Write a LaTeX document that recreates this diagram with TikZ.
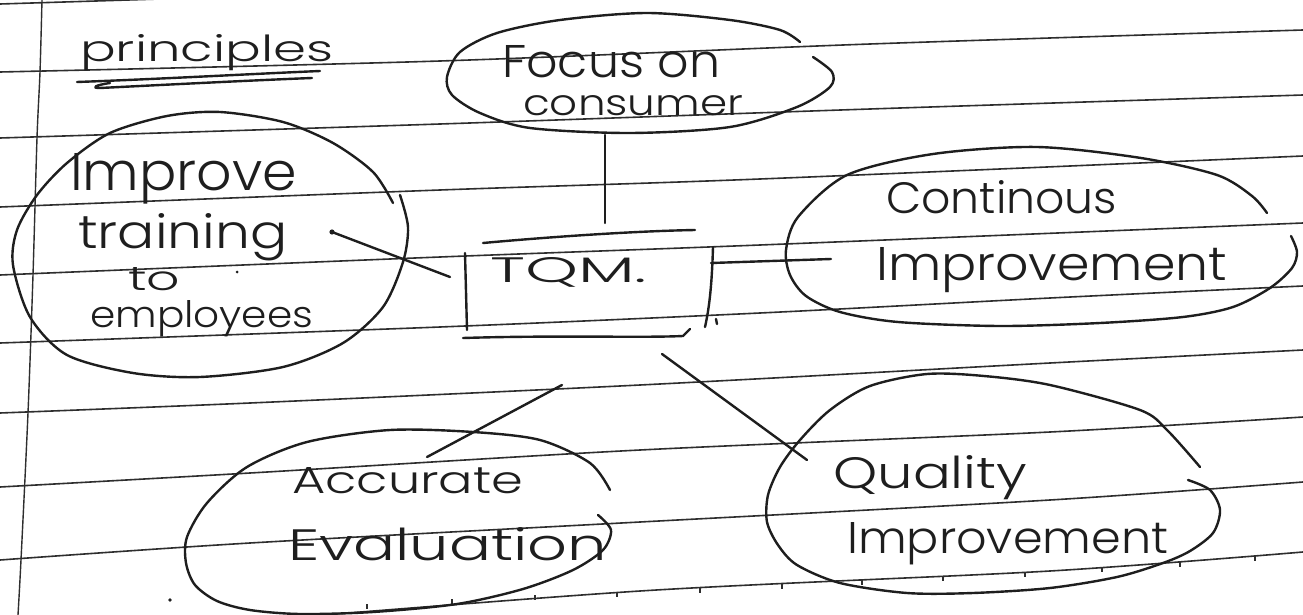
\documentclass[tikz,border=0pt]{standalone}
\usepackage{fontspec}
\setmainfont{Poppins}[UprightFont=* Light]
\definecolor{ink}{HTML}{1E1E1E}
\definecolor{rule}{HTML}{2E2E2E}
% scale a word to a given width and height (in pt, height above baseline)
\newcommand\hw[3]{\resizebox{#1pt}{#2pt}{#3}}
\begin{document}
\begin{tikzpicture}[x=1pt,y=-1pt,
  inkline/.style={draw=ink,line width=2.4pt,line cap=round,line join=round},
  ruleline/.style={draw=rule,line width=1.6pt},
  word/.style={inner sep=0pt,anchor=base west,text=ink}]
\useasboundingbox (0,0) rectangle (1303,615);
\fill[white] (0,0) rectangle (1303,615);

% ruled paper
\begin{scope}[ruleline]
\draw plot[smooth] coordinates {(0,4) (320,-6)};
\draw plot[smooth] coordinates {(0,72) (440,61) (870,44) (1303,30)};
\draw plot[smooth] coordinates {(0,138) (440,124) (870,109) (1303,95)};
\draw plot[smooth] coordinates {(0,207) (440,190) (760,179) (1303,156)};
\draw plot[smooth] coordinates {(0,275) (440,257) (760,245) (1303,223)};
\draw plot[smooth] coordinates {(0,343) (440,327) (760,313) (1050,298) (1303,286)};
\draw plot[smooth] coordinates {(0,413) (250,403) (640,385) (1050,363) (1303,350)};
\draw plot[smooth] coordinates {(0,487) (250,473) (640,450) (1050,432) (1303,417)};
\draw plot[smooth] coordinates {(0,560) (250,543) (640,522) (1050,500) (1303,482)};
\draw plot[smooth] coordinates {(200,625) (640,591) (1050,571) (1303,552)};
\draw[line width=1.4pt] plot[smooth] coordinates {(42,0) (40,72) (37,138) (33,275) (28,413) (21,560) (18,615)};
\foreach \x/\y in {367/604,452/599,535/595,617/592,700/588,782/584,862/580,943/576,1025/572,1102/567,1180/562,1255/556}
  \draw[line width=1.2pt] (\x,\y) -- (\x,\y+5);
\end{scope}

% heading
\node[word] (tprin) at (80,62) {\hw{253}{27}{principles}};
\draw[inkline] (77,82) .. controls (160,79) and (250,74) .. (320,71);
\draw[inkline] (110,83) .. controls (96,85) and (90,88) .. (100,88) .. controls (180,84) and (260,80) .. (312,78);

% Focus on consumer
\draw[inkline] plot[smooth] coordinates {(800,42) (780,30) (730,20) (647,13) (560,20) (497,33) (460,52) (447,77) (452,95) (480,113) (530,128) (630,133) (730,127) (797,107) (830,87) (832,72) (813,57)};
\node[word] (tfocA) at (502,78) {\hw{218}{32}{Focus on}};
\node[word] (tfocB) at (523,116) {\hw{220}{20}{consumer}};

% Improve training to employees
\draw[inkline] plot[smooth] coordinates {(400,195) (408,227) (403,262) (383,307) (343,343) (283,367) (200,377) (133,373) (67,355) (30,317) (13,265) (17,230) (37,195) (67,163) (110,133) (167,116) (220,112) (283,122) (333,143) (373,172) (393,203)};
\node[word] (timpA) at (70,190) {\hw{227}{37}{Improve}};
\node[word] (timpB) at (78,248) {\hw{209}{35}{training}};
\node[word] (timpC) at (128,290) {\hw{52}{23}{to}};
\node[word] (timpD) at (90,327) {\hw{223}{27}{employees}};

% Continous Improvement
\draw[inkline] plot[smooth] coordinates {(1267,213) (1252,196) (1217,175) (1141,158) (1037,147) (933,154) (847,175) (798,217) (786,250) (790,275) (806,296) (840,312) (898,322) (1000,326) (1100,323) (1183,317) (1233,307) (1270,288) (1292,268) (1297,252) (1291,236)};
\node[word] (tconA) at (886,213) {\hw{231}{33}{Continous}};
\node[word] (tconB) at (876,280) {\hw{351}{33}{Improvement}};

% Accurate Evaluation
\draw[inkline] plot[smooth] coordinates {(610,490) (590,463) (540,440) (473,432) (390,430) (307,442) (247,467) (207,503) (187,537) (186,563) (195,585) (217,601) (250,610) (300,614) (373,612) (457,604) (523,589) (573,570) (603,550) (611,530) (598,515)};
\node[word] (taccA) at (292,493) {\hw{231}{26}{Accurate}};
\node[word] (taccB) at (288,560) {\hw{319}{33}{Evaluation}};

% Quality Improvement
\draw[inkline] plot[smooth] coordinates {(1200,467) (1167,430) (1140,410) (1050,385) (984,376) (927,374) (870,386) (830,410) (800,440) (780,467) (768,495) (767,522) (778,545) (797,565) (840,583) (907,593) (973,593) (1050,588) (1117,577) (1163,563) (1190,551) (1213,533) (1220,510) (1210,490) (1188,480)};
\node[word] (tquaA) at (833,488) {\hw{194}{33}{Quality}};
\node[word] (tquaB) at (847,553) {\hw{321}{31}{Improvement}};

% TQM box
\node[word] (tqm) at (490,282) {\hw{157}{25}{TQM.}};
\draw[inkline] (483,243) .. controls (560,236) and (640,231) .. (695,230);
\draw[inkline] (465,253) -- (467,330);
\draw[inkline] (463,338) .. controls (560,335) and (640,338) .. (683,336) -- (690,329);
\draw[inkline] (713,247) .. controls (712,280) and (710,305) .. (705,327);
\draw[inkline] (716,319) -- (717,324);

% connectors
\coordinate (focB) at (605,135);  \coordinate (tqmT) at (605,223);
\coordinate (tqmR) at (711,263);  \coordinate (conL) at (831,259);
\coordinate (tqmL) at (450,277);  \coordinate (trnR) at (332,232);
\coordinate (tqmB1) at (562,385); \coordinate (accT) at (427,457);
\coordinate (tqmB2) at (662,354); \coordinate (quaL) at (807,460);
\draw[inkline] (focB) -- (tqmT);
\draw[inkline] (tqmR) -- (conL);
\draw[inkline] (tqmL) -- (trnR);
\fill[ink] (trnR) circle (2.6pt);
\draw[inkline] (tqmB1) -- (accT);
\draw[inkline] (tqmB2) -- (quaL);

% stray pen marks
\fill[ink] (170,600) circle (1.8pt);
\fill[ink] (237,272) circle (1.5pt);
\end{tikzpicture}
\end{document}
